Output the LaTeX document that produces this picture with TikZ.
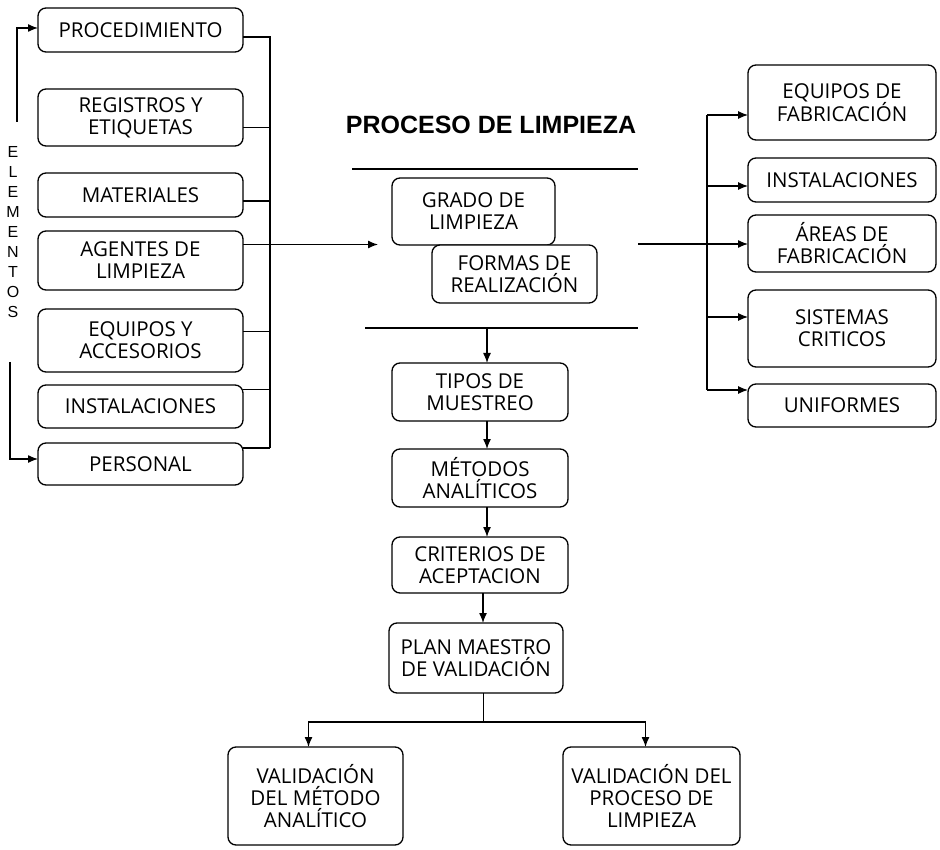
\documentclass[tikz,border=0pt]{standalone}
\usepackage{fontspec}
\setmainfont{Open Sans}
\newfontfamily\arialfont{Liberation Sans}
\usepackage{tikz}
\usetikzlibrary{arrows.meta, positioning}

\begin{document}
\begin{tikzpicture}[x=1pt, y=-1pt, >={Latex[length=10pt, width=8pt]}, line width=1.3pt,
    box/.style={draw, rounded corners=8pt, fill=white, inner sep=2pt, outer sep=0pt, align=center, font=\fontsize{20.5}{22}\selectfont},
    lbox/.style={box, minimum width=205pt},
    rbox/.style={box, minimum width=188pt},
    cbox/.style={box, minimum width=176pt},
    rule/.style={line width=1.5pt},
    bus/.style={line width=1.1pt}]

    \useasboundingbox (0,0) rectangle (940,850);

    % Nodes
    \node (title) [font=\arialfont\bfseries\fontsize{25}{30}\selectfont] at (491,125) {PROCESO DE LIMPIEZA};
    \node (elem) [font=\arialfont\fontsize{16}{19.9}\selectfont, align=center] at (13,232) {E\\L\\E\\M\\E\\N\\T\\O\\S};

    \node (proc) [lbox, minimum height=44pt] at (140.5,30) {PROCEDIMIENTO};
    \node (regis) [lbox, minimum height=57pt, below=37pt of proc] {REGISTROS Y\\ETIQUETAS};
    \node (mater) [lbox, minimum height=44pt, below=27pt of regis] {MATERIALES};
    \node (agent) [lbox, minimum height=59pt, below=14pt of mater] {AGENTES DE\\LIMPIEZA};
    \node (equip) [lbox, minimum height=63pt, below=19pt of agent] {EQUIPOS Y\\ACCESORIOS};
    \node (instal) [lbox, minimum height=43pt, below=13pt of equip] {INSTALACIONES};
    \node (person) [lbox, minimum height=42pt, below=15pt of instal] {PERSONAL};

    \node (grado) [box, minimum width=163pt, minimum height=67pt] at (473.5,211.5) {GRADO DE\\LIMPIEZA};
    \node (formas) [box, minimum width=165pt, minimum height=58pt] at (514.5,274) {FORMAS DE\\REALIZACIÓN};

    \node (fab) [rbox, minimum height=75pt] at (842,102.5) {EQUIPOS DE\\FABRICACIÓN};
    \node (inst2) [rbox, minimum height=44pt, below=18pt of fab] {INSTALACIONES};
    \node (areas) [rbox, minimum height=57pt, below=13pt of inst2] {ÁREAS DE\\FABRICACIÓN};
    \node (sist) [rbox, minimum height=77pt, below=18pt of areas] {SISTEMAS\\CRITICOS};
    \node (unif) [rbox, minimum height=43pt, below=17pt of sist] {UNIFORMES};

    \node (tipo) [cbox, minimum height=58pt] at (480,392) {TIPOS DE\\MUESTREO};
    \node (metod) [cbox, minimum height=58pt, below=28pt of tipo] {MÉTODOS\\ANALÍTICOS};
    \node (crit) [cbox, minimum height=56pt, below=30pt of metod] {CRITERIOS DE\\ACEPTACION};
    \node (plan) [box, minimum width=174pt, minimum height=70pt] at (476,658) {PLAN MAESTRO\\DE VALIDACIÓN};
    \node (valm) [box, minimum width=175pt, minimum height=98pt] at (315.5,796) {VALIDACIÓN\\DEL MÉTODO\\ANALÍTICO};
    \node (valp) [box, minimum width=177pt, minimum height=98pt] at (651.5,796) {VALIDACIÓN DEL\\PROCESO DE\\LIMPIEZA};

    % Points
    \coordinate (eltop) at (17,122);
    \coordinate (elbot) at (10,362);
    \coordinate (lbus) at (270,448);
    \coordinate (gout) at (638,244);
    \coordinate (rbustop) at (707,115);
    \coordinate (rbusbot) at (707,390);
    \coordinate (ruleAl) at (352,169);
    \coordinate (ruleAr) at (638,169);
    \coordinate (ruleBl) at (365,328);
    \coordinate (ruleBr) at (638,328);
    \coordinate (drop) at (487,328);
    \coordinate (split) at (483,722);

    % Links
    \draw[->] (eltop) |- ([yshift=2pt]proc.west);
    \draw[->] (elbot) |- ([yshift=5pt]person.west);

    \draw ([yshift=-7pt]proc.east) -| (lbus);
    \draw ([yshift=-10pt]regis.east) -- ([yshift=-10pt]regis.east -| lbus);
    \draw ([yshift=-6pt]mater.east) -- ([yshift=-6pt]mater.east -| lbus);
    \draw ([yshift=9pt]equip.east) -- ([yshift=9pt]equip.east -| lbus);
    \draw ([yshift=17pt]instal.east) -- ([yshift=17pt]instal.east -| lbus);
    \draw ([yshift=16pt]person.east) -- ([yshift=16pt]person.east -| lbus);
    \draw[->, shorten >=14pt] ([yshift=16pt]agent.east) -- ([yshift=16pt]agent.east -| grado.west);

    \draw[rule] (ruleAl) -- (ruleAr);
    \draw[rule] (ruleBl) -- (ruleBr);

    \draw[->] (gout) -- (gout -| areas.west);
    \draw[bus] (rbustop) -- (rbusbot);
    \draw[bus, ->] (rbustop) -- (rbustop -| fab.west);
    \draw[bus, ->] ([yshift=-6pt]inst2.west -| rbustop) -- ([yshift=-6pt]inst2.west);
    \draw[bus, ->] ([yshift=11.5pt]sist.west -| rbustop) -- ([yshift=11.5pt]sist.west);
    \draw[bus, ->] (rbusbot) -- (rbusbot -| unif.west);

    \draw[->] (drop) -- (drop |- tipo.north);
    \draw[->] ([xshift=7pt]tipo.south) -- ([xshift=7pt]metod.north);
    \draw[->] ([xshift=7pt]metod.south) -- ([xshift=7pt]crit.north);
    \draw[->] ([xshift=3pt]crit.south) -- ([xshift=3pt]crit.south |- plan.north);
    \draw[line width=1pt] (split |- plan.south) -- (split);
    \draw[->] (split) -| ([xshift=-7pt]valm.north);
    \draw[->] (split) -| ([xshift=-6pt]valp.north);
\end{tikzpicture}
\end{document}
